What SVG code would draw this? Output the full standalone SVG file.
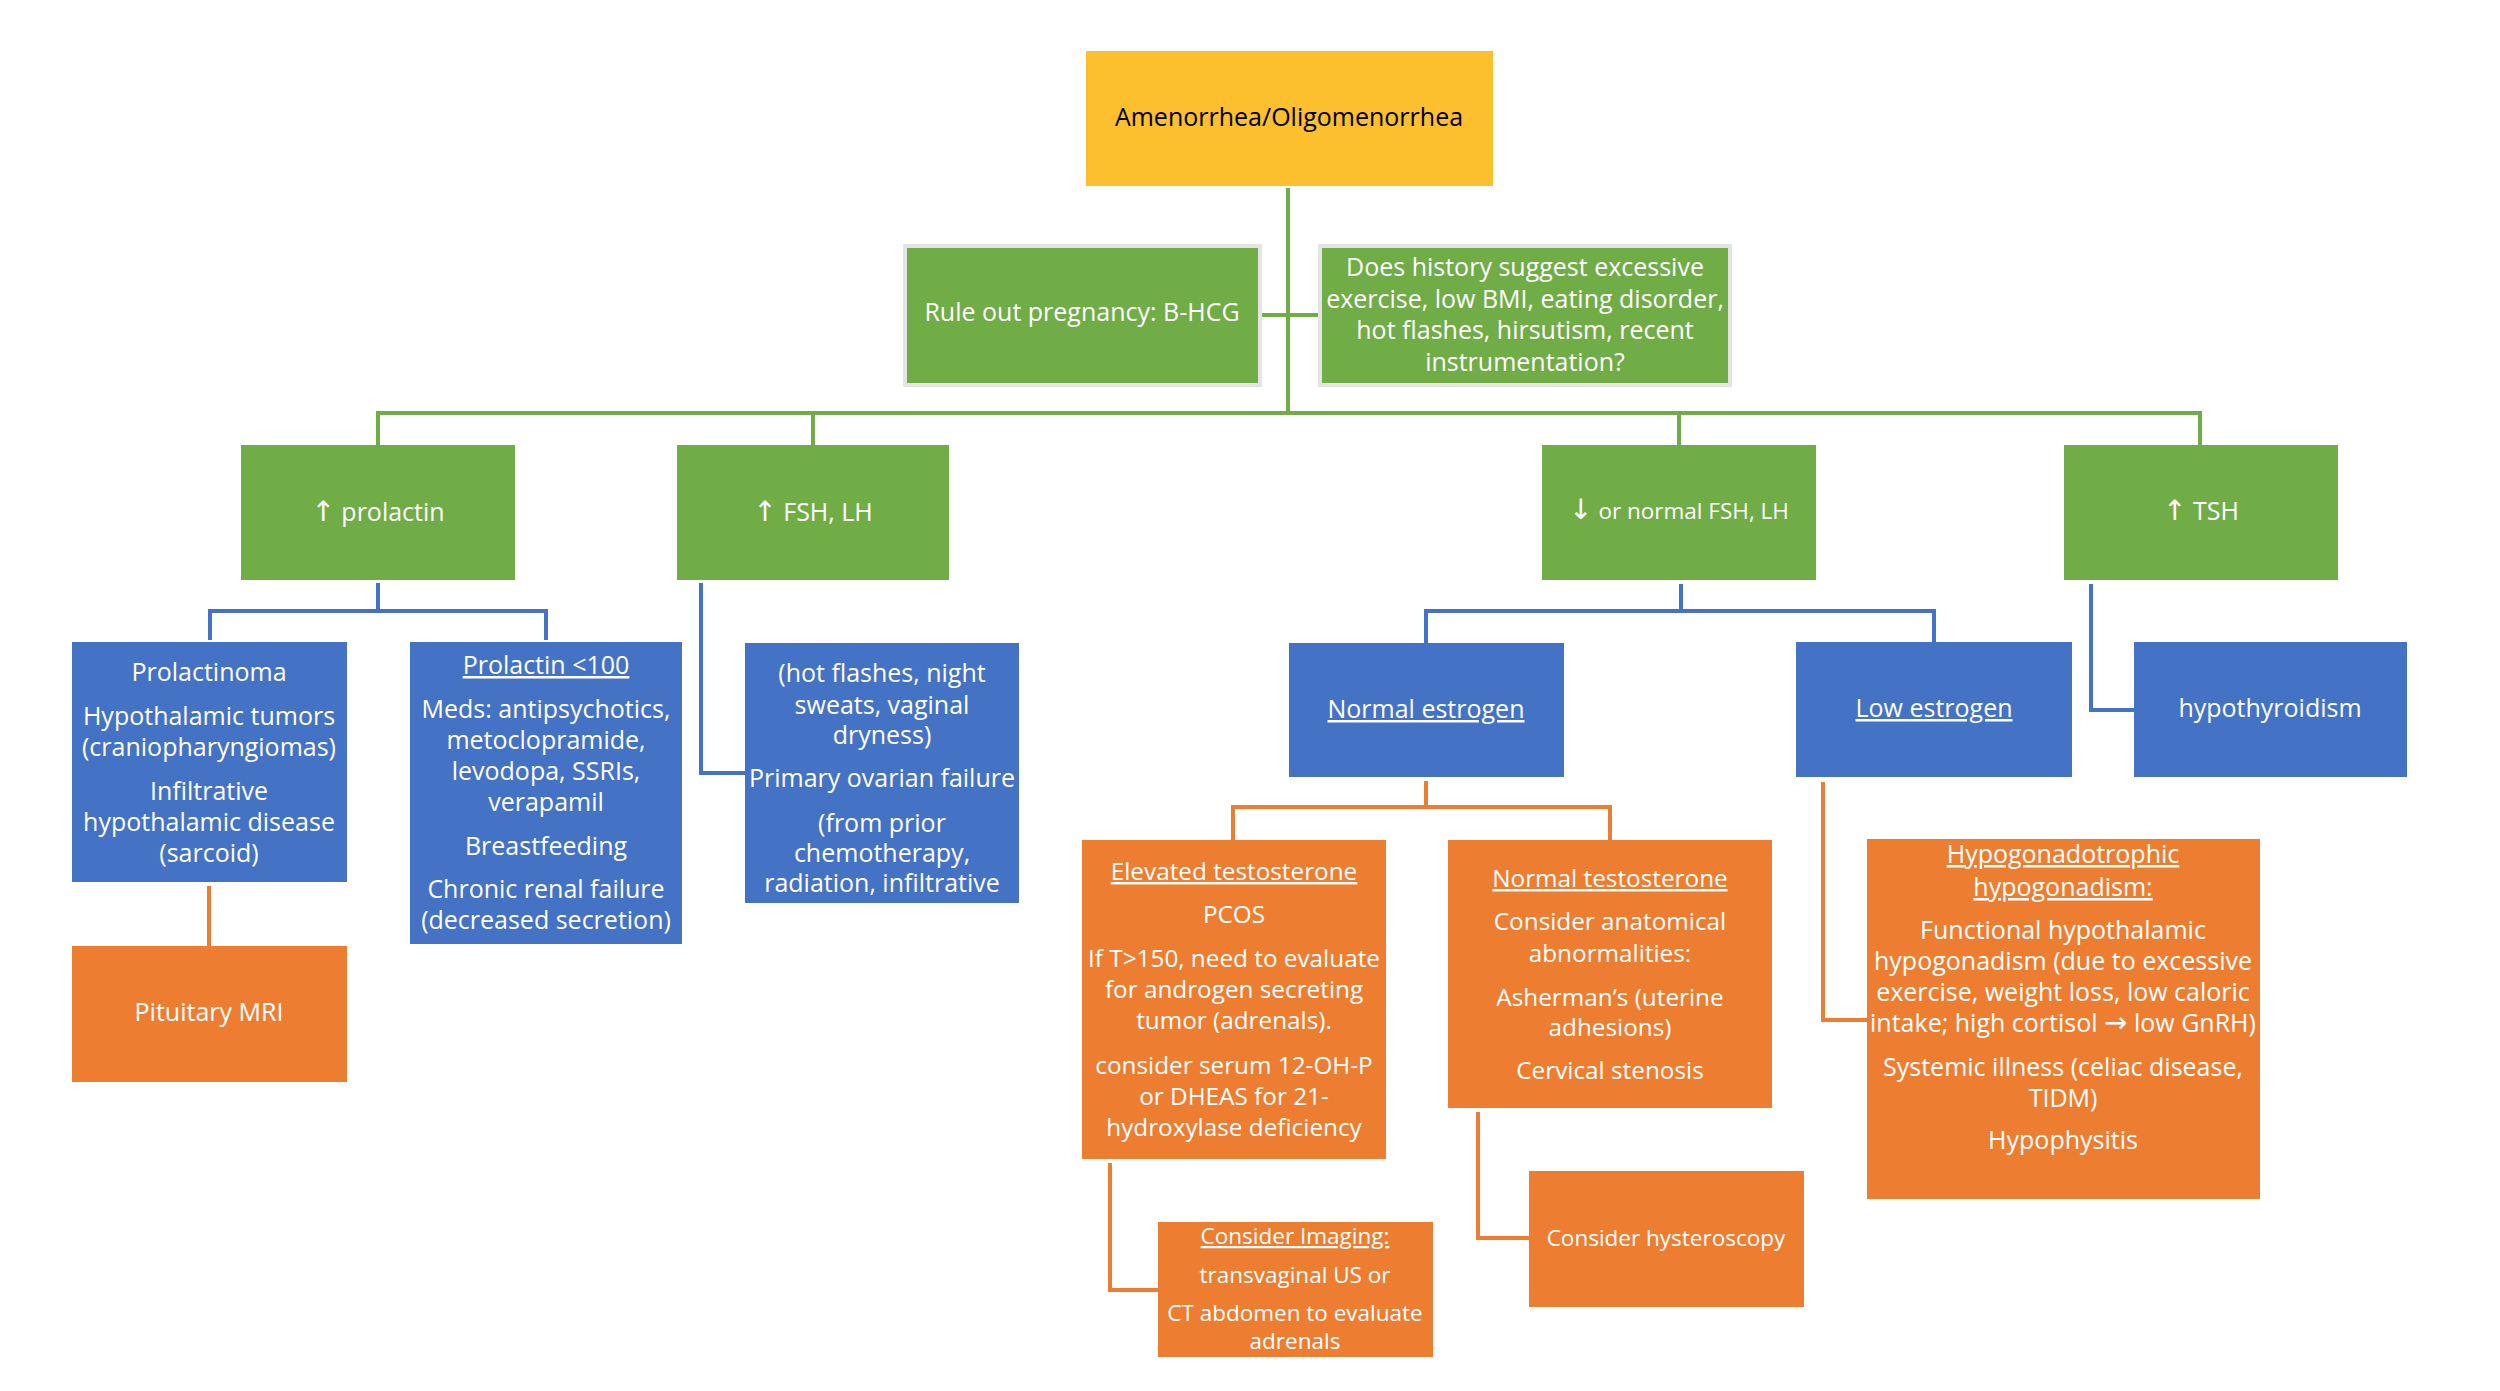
<svg xmlns="http://www.w3.org/2000/svg" width="2500" height="1391" viewBox="0 0 2500 1391">
<style>
.bg{fill:#FFFFFF}
.gold{fill:#FCBF2E}
.green{fill:#70AD47}
.blue{fill:#4472C4}
.orange{fill:#ED7D31}
.gray{stroke:#E4E4E4;stroke-width:4}
.t{font-family:"Open Sans","Liberation Sans",sans-serif;fill:#FFFFFF;text-anchor:middle;font-size:25px}
tspan.ar{font-family:"DejaVu Sans",sans-serif;font-size:28px}
.k{fill:#000000}
.s24{font-size:24.3px}
.s22{font-size:22.5px}
.u{text-decoration:underline}
.lg{fill:none;stroke:#70AD47;stroke-width:4}
.lb{fill:none;stroke:#4472C4;stroke-width:4}
.lo{fill:none;stroke:#ED7D31;stroke-width:4}
</style>
<rect class="bg" x="0" y="0" width="2500" height="1391"/>
<g id="connectors">
  <path class="lg" d="M1288 188 V415"/>
  <path class="lg" d="M1262 315 H1320"/>
  <path class="lg" d="M376 413 H2202"/>
  <path class="lg" d="M378 413 V445 M813 413 V445 M1679 413 V445 M2200 413 V445"/>
  <path class="lb" d="M378 583 V611"/>
  <path class="lb" d="M210 640 V611 H546 V640"/>
  <path class="lb" d="M701 583 V773 H745"/>
  <path class="lb" d="M1681 584 V611"/>
  <path class="lb" d="M1426 643 V611 H1934 V642"/>
  <path class="lb" d="M2091 584 V710 H2134"/>
  <path class="lo" d="M209 886 V946"/>
  <path class="lo" d="M1426 781 V807"/>
  <path class="lo" d="M1233 840 V807 H1610 V840"/>
  <path class="lo" d="M1823 782 V1020 H1867"/>
  <path class="lo" d="M1110 1163 V1290 H1158"/>
  <path class="lo" d="M1478 1112 V1238 H1529"/>
</g>
<g id="n-root">
  <rect class="gold" x="1086" y="51" width="407" height="135"/>
  <text class="t k" x="1289" y="126">Amenorrhea/Oligomenorrhea</text>
</g>
<g id="n-ruleout">
  <rect class="green gray" x="905" y="246" width="355" height="139"/>
  <text class="t" x="1082" y="321">Rule out pregnancy: B-HCG</text>
</g>
<g id="n-history">
  <rect class="green gray" x="1320" y="246" width="410" height="139"/>
  <text class="t" x="1525" y="276">Does history suggest excessive</text>
  <text class="t" x="1525" y="308">exercise, low BMI, eating disorder,</text>
  <text class="t" x="1525" y="339">hot flashes, hirsutism, recent</text>
  <text class="t" x="1525" y="371">instrumentation?</text>
</g>
<g id="n-prolactin">
  <rect class="green" x="241" y="445" width="274" height="135"/>
  <text class="t" x="378" y="521"><tspan class="ar">↑</tspan> prolactin</text>
</g>
<g id="n-fshlh">
  <rect class="green" x="677" y="445" width="272" height="135"/>
  <text class="t" x="813" y="521"><tspan class="ar">↑</tspan> FSH, LH</text>
</g>
<g id="n-lowfsh">
  <rect class="green" x="1542" y="445" width="274" height="135"/>
  <text class="t s22" x="1679" y="519"><tspan class="ar">↓</tspan> or normal FSH, LH</text>
</g>
<g id="n-tsh">
  <rect class="green" x="2064" y="445" width="274" height="135"/>
  <text class="t" x="2201" y="520"><tspan class="ar">↑</tspan> TSH</text>
</g>
<g id="n-prolactinoma">
  <rect class="blue" x="72" y="642" width="275" height="240"/>
  <text class="t" x="209" y="681">Prolactinoma</text>
  <text class="t" x="209" y="725">Hypothalamic tumors</text>
  <text class="t" x="209" y="756">(craniopharyngiomas)</text>
  <text class="t" x="209" y="800">Infiltrative</text>
  <text class="t" x="209" y="831">hypothalamic disease</text>
  <text class="t" x="209" y="862">(sarcoid)</text>
</g>
<g id="n-prolactin100">
  <rect class="blue" x="410" y="642" width="272" height="302"/>
  <text class="t u" x="546" y="674">Prolactin &lt;100</text>
  <text class="t" x="546" y="718">Meds: antipsychotics,</text>
  <text class="t" x="546" y="749">metoclopramide,</text>
  <text class="t" x="546" y="780">levodopa, SSRIs,</text>
  <text class="t" x="546" y="811">verapamil</text>
  <text class="t" x="546" y="855">Breastfeeding</text>
  <text class="t" x="546" y="898">Chronic renal failure</text>
  <text class="t" x="546" y="929">(decreased secretion)</text>
</g>
<g id="n-ovarian">
  <rect class="blue" x="745" y="643" width="274" height="260"/>
  <text class="t" x="882" y="682">(hot flashes, night</text>
  <text class="t" x="882" y="714">sweats, vaginal</text>
  <text class="t" x="882" y="744">dryness)</text>
  <text class="t" x="882" y="787">Primary ovarian failure</text>
  <text class="t" x="882" y="832">(from prior</text>
  <text class="t" x="882" y="862">chemotherapy,</text>
  <text class="t" x="882" y="892">radiation, infiltrative</text>
</g>
<g id="n-normalestrogen">
  <rect class="blue" x="1289" y="643" width="275" height="134"/>
  <text class="t u" x="1426" y="718">Normal estrogen</text>
</g>
<g id="n-lowestrogen">
  <rect class="blue" x="1796" y="642" width="276" height="135"/>
  <text class="t u" x="1934" y="717">Low estrogen</text>
</g>
<g id="n-hypothyroidism">
  <rect class="blue" x="2134" y="642" width="273" height="135"/>
  <text class="t" x="2270" y="717">hypothyroidism</text>
</g>
<g id="n-mri">
  <rect class="orange" x="72" y="946" width="275" height="136"/>
  <text class="t" x="209" y="1021">Pituitary MRI</text>
</g>
<g id="n-elevated">
  <rect class="orange" x="1082" y="840" width="304" height="319"/>
  <text class="t s24 u" x="1234" y="880">Elevated testosterone</text>
  <text class="t s24" x="1234" y="923">PCOS</text>
  <text class="t s24" x="1234" y="967">If T&gt;150, need to evaluate</text>
  <text class="t s24" x="1234" y="998">for androgen secreting</text>
  <text class="t s24" x="1234" y="1029">tumor (adrenals).</text>
  <text class="t s24" x="1234" y="1074">consider serum 12-OH-P</text>
  <text class="t s24" x="1234" y="1105">or DHEAS for 21-</text>
  <text class="t s24" x="1234" y="1136">hydroxylase deficiency</text>
</g>
<g id="n-normaltesto">
  <rect class="orange" x="1448" y="840" width="324" height="268"/>
  <text class="t s24 u" x="1610" y="887">Normal testosterone</text>
  <text class="t s24" x="1610" y="930">Consider anatomical</text>
  <text class="t s24" x="1610" y="962">abnormalities:</text>
  <text class="t s24" x="1610" y="1006">Asherman’s (uterine</text>
  <text class="t s24" x="1610" y="1036">adhesions)</text>
  <text class="t s24" x="1610" y="1079">Cervical stenosis</text>
</g>
<g id="n-hypogonadism">
  <rect class="orange" x="1867" y="839" width="393" height="360"/>
  <text class="t u" x="2063" y="863">Hypogonadotrophic</text>
  <text class="t u" x="2063" y="896">hypogonadism:</text>
  <text class="t" x="2063" y="939">Functional hypothalamic</text>
  <text class="t" x="2063" y="970">hypogonadism (due to excessive</text>
  <text class="t" x="2063" y="1001">exercise, weight loss, low caloric</text>
  <text class="t" x="2063" y="1032">intake; high cortisol <tspan class="ar">→</tspan> low GnRH)</text>
  <text class="t" x="2063" y="1076">Systemic illness (celiac disease,</text>
  <text class="t" x="2063" y="1107">TIDM)</text>
  <text class="t" x="2063" y="1149">Hypophysitis</text>
</g>
<g id="n-imaging">
  <rect class="orange" x="1158" y="1222" width="275" height="135"/>
  <text class="t s22 u" x="1295" y="1244">Consider Imaging:</text>
  <text class="t s22" x="1295" y="1283">transvaginal US or</text>
  <text class="t s22" x="1295" y="1321">CT abdomen to evaluate</text>
  <text class="t s22" x="1295" y="1349">adrenals</text>
</g>
<g id="n-hysteroscopy">
  <rect class="orange" x="1529" y="1171" width="275" height="136"/>
  <text class="t s22" x="1666" y="1246">Consider hysteroscopy</text>
</g>
</svg>
